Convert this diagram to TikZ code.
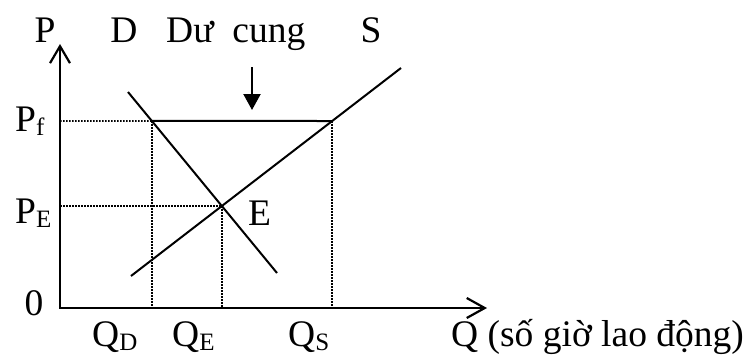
\documentclass[tikz,border=0pt]{standalone}
\usepackage{fontspec}
\setmainfont{Liberation Serif}
\usetikzlibrary{arrows.meta, positioning}
\newcommand{\lsub}[1]{\raisebox{-4pt}{\fontsize{25}{25}\selectfont #1}}

\begin{document}
\begin{tikzpicture}[x=1pt, y=1pt,
    axis/.style={line width=2.2pt, {Straight Barb[length=17pt, width=20pt]}-{Straight Barb[length=18pt, width=20pt]}},
    curve/.style={line width=2pt},
    guide/.style={line width=1.6pt, dash pattern=on 1.6pt off 1.4pt},
    lbl/.style={inner sep=0pt, anchor=base west, font=\fontsize{37.5}{42}\selectfont}]
  \useasboundingbox (0,0) rectangle (750,360);

  \coordinate (O) at (60,52);
  \coordinate (Ptop) at (60,316);
  \coordinate (Qend) at (487,52);
  \coordinate (D1) at (128,268);
  \coordinate (D2) at (277,87);
  \coordinate (S1) at (131,84);
  \coordinate (S2) at (401,292);
  \coordinate (Pf) at (60,239);
  \coordinate (Pfr) at (700,239);
  \coordinate (E) at (intersection of D1--D2 and S1--S2);
  \coordinate (Dcut) at (intersection of D1--D2 and Pf--Pfr);
  \coordinate (Scut) at (intersection of S1--S2 and Pf--Pfr);
  \coordinate (arrtop) at (252,293);
  \coordinate (arrtip) at (252,250);

  % dotted guides
  \draw[guide] (Pf) -- (Dcut);
  \draw[guide] (Dcut) -- (Dcut |- O);
  \draw[guide] (Scut) -- (Scut |- O);
  \draw[guide] (O |- E) -- (E) -- (E |- O);

  % curves and surplus
  \draw[curve] (Dcut) -- (Scut);
  \draw[curve] (D1) -- (D2);
  \draw[curve] (S1) -- (S2);
  \draw[line width=2.2pt, -{Triangle[length=16pt, width=17pt]}] (arrtop) -- (arrtip);

  % axes
  \draw[axis] (Ptop) -- (O) -- (Qend);

  \node[lbl, anchor=base] (Plbl) at (45,318) {P};
  \node[lbl, anchor=base] (Dlbl) at (124,318) {D};
  \node[lbl] (surplus) at (166,318) {Dư\ \ cung};
  \node[lbl, anchor=base] (Slbl) at (371,318) {S};
  \node[lbl] (Pflbl) at (15,229) {P\lsub{f}};
  \node[lbl] (PElbl) at (15,137) {P\lsub{E}};
  \node[lbl, anchor=base] (zero) at (34,45) {0};
  \node[lbl] (Elbl) at (248,135) {E};
  \node[lbl] (QDlbl) at (92,14) {Q\lsub{D}};
  \node[lbl] (QElbl) at (172,14) {Q\lsub{E}};
  \node[lbl] (QSlbl) at (288,14) {Q\lsub{S}};
  \node[lbl] (Qlbl) at (451,14) {Q (số giờ lao động)};
\end{tikzpicture}
\end{document}
